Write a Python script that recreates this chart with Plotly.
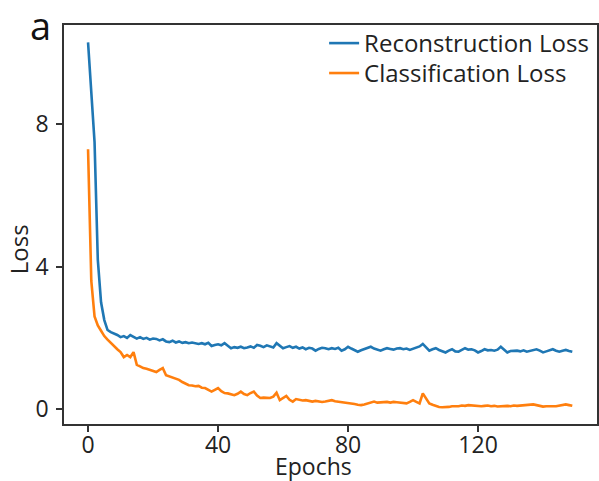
import plotly.graph_objects as go

epochs = list(range(150))

reconstruction_loss = [
    10.3, 8.9, 7.5, 4.2, 3.0, 2.5, 2.22, 2.16, 2.13, 2.08,
    2.02, 2.05, 2.00, 2.08, 2.03, 1.98, 2.02, 1.97, 2.00, 1.95,
    1.98, 1.97, 1.93, 1.96, 1.90, 1.88, 1.92, 1.87, 1.90, 1.86,
    1.88, 1.85, 1.87, 1.84, 1.83, 1.85, 1.82, 1.86, 1.77, 1.80,
    1.82, 1.79, 1.85, 1.78, 1.71, 1.74, 1.72, 1.75, 1.71, 1.73,
    1.76, 1.72, 1.80, 1.78, 1.74, 1.79, 1.76, 1.73, 1.85, 1.78,
    1.71, 1.74, 1.77, 1.72, 1.75, 1.70, 1.73, 1.68, 1.72, 1.70,
    1.64, 1.69, 1.72, 1.71, 1.68, 1.71, 1.69, 1.72, 1.64, 1.68,
    1.75, 1.70, 1.66, 1.61, 1.65, 1.69, 1.72, 1.75, 1.70, 1.67,
    1.64, 1.68, 1.71, 1.69, 1.67, 1.70, 1.71, 1.68, 1.70, 1.66,
    1.69, 1.73, 1.76, 1.83, 1.72, 1.64, 1.68, 1.71, 1.66, 1.63,
    1.59, 1.64, 1.68, 1.62, 1.61, 1.66, 1.71, 1.67, 1.68, 1.65,
    1.59, 1.63, 1.68, 1.65, 1.66, 1.64, 1.67, 1.75, 1.66, 1.59,
    1.63, 1.64, 1.64, 1.62, 1.65, 1.61, 1.64, 1.66, 1.68, 1.64,
    1.59, 1.62, 1.65, 1.68, 1.64, 1.61, 1.64, 1.66, 1.63, 1.61,
]

classification_loss = [
    7.3, 3.6, 2.6, 2.35, 2.2, 2.05, 1.95, 1.85, 1.75, 1.68,
    1.60, 1.46, 1.52, 1.46, 1.60, 1.24, 1.20, 1.15, 1.13, 1.10,
    1.07, 1.04, 1.10, 1.15, 0.95, 0.92, 0.90, 0.87, 0.82, 0.76,
    0.72, 0.67, 0.66, 0.64, 0.65, 0.60, 0.59, 0.55, 0.49, 0.54,
    0.59, 0.50, 0.45, 0.44, 0.41, 0.39, 0.43, 0.49, 0.42, 0.39,
    0.45, 0.49, 0.38, 0.31, 0.32, 0.31, 0.31, 0.35, 0.46, 0.25,
    0.30, 0.37, 0.26, 0.21, 0.28, 0.25, 0.24, 0.25, 0.22, 0.21,
    0.23, 0.21, 0.20, 0.21, 0.23, 0.25, 0.22, 0.21, 0.19, 0.18,
    0.17, 0.16, 0.14, 0.12, 0.11, 0.13, 0.16, 0.19, 0.21, 0.18,
    0.19, 0.21, 0.20, 0.18, 0.20, 0.19, 0.18, 0.17, 0.16, 0.20,
    0.25, 0.20, 0.16, 0.44, 0.28, 0.16, 0.12, 0.08, 0.06, 0.05,
    0.05, 0.06, 0.08, 0.07, 0.08, 0.10, 0.09, 0.11, 0.10, 0.11,
    0.09, 0.08, 0.09, 0.10, 0.08, 0.09, 0.07, 0.08, 0.07, 0.09,
    0.08, 0.10, 0.09, 0.10, 0.11, 0.10, 0.12, 0.13, 0.11, 0.09,
    0.07, 0.08, 0.09, 0.08, 0.08, 0.09, 0.10, 0.13, 0.11, 0.09,
]

x_ticks = [0, 40, 80, 120]
y_ticks = [0, 4, 8]

FONT = "Open Sans"
TXT = "#222222"
AX = "#333333"

fig = go.Figure()
fig.add_trace(go.Scatter(x=epochs, y=reconstruction_loss, mode="lines",
                         name="Reconstruction Loss", legend="legend",
                         line=dict(color="#1f77b4", width=2.6)))
fig.add_trace(go.Scatter(x=epochs, y=classification_loss, mode="lines",
                         name="Classification Loss", legend="legend2",
                         line=dict(color="#ff7f0e", width=2.6)))

leg_common = dict(xanchor="left", yanchor="top",
                  bgcolor="rgba(0,0,0,0)", borderwidth=0,
                  font=dict(family=FONT, size=24, color=TXT),
                  itemwidth=30)

fig.update_layout(
    width=599, height=481,
    margin=dict(l=64, r=2, t=25, b=57, autoexpand=False),
    paper_bgcolor="white", plot_bgcolor="white",
    font=dict(family=FONT, size=23, color=TXT),
    showlegend=True,
    legend=dict(x=0.488, y=1.010, **leg_common),
    legend2=dict(x=0.488, y=0.935, **leg_common),
    xaxis=dict(range=[-7.4, 156.6], tickvals=x_ticks, automargin=False,
               ticks="outside", ticklen=6, tickwidth=1.5, tickcolor=AX,
               ticklabelstandoff=-6,
               tickfont=dict(family=FONT, size=23, color=TXT),
               showline=True, linecolor=AX, linewidth=1.5, mirror=True,
               showgrid=False, zeroline=False),
    yaxis=dict(range=[-0.42, 10.79], tickvals=y_ticks, automargin=False,
               ticks="outside", ticklen=6, tickwidth=1.5, tickcolor=AX,
               ticklabelstandoff=3,
               tickfont=dict(family=FONT, size=23, color=TXT),
               showline=True, linecolor=AX, linewidth=1.5, mirror=True,
               showgrid=False, zeroline=False),
    annotations=[
        dict(text="a", xref="paper", yref="paper",
             x=-0.045, y=1.0, xanchor="center", yanchor="middle",
             showarrow=False,
             font=dict(family=FONT, size=38, color="#111111")),
        dict(text="Epochs", xref="paper", yref="paper",
             x=0.469, y=-0.105, xanchor="center", yanchor="middle",
             showarrow=False,
             font=dict(family=FONT, size=23, color=TXT)),
        dict(text="Loss", xref="paper", yref="paper", textangle=-90,
             x=-0.084, y=0.4386, xanchor="center", yanchor="middle",
             showarrow=False,
             font=dict(family=FONT, size=24, color=TXT)),
    ],
)

fig.write_html("out.html", config={"displayModeBar": False},
               post_script="document.body.style.margin='0';document.body.style.padding='0';")
